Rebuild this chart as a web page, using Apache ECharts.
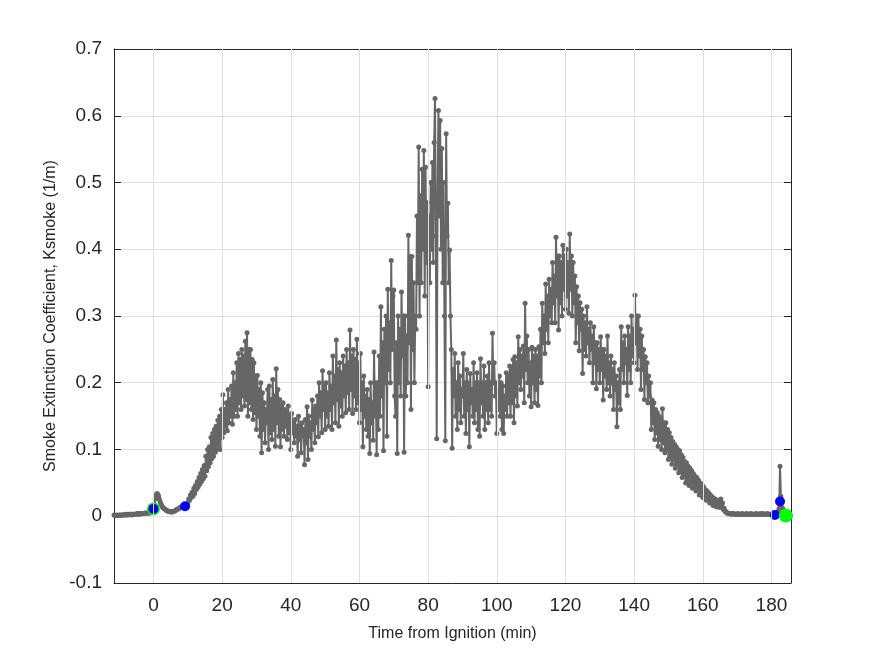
<!DOCTYPE html>
<html>
<head>
<meta charset="utf-8">
<script src="https://cdn.jsdelivr.net/npm/echarts@6/dist/echarts.min.js"></script>
<style>
html,body{margin:0;padding:0;background:#fff;}
#chart{width:875px;height:656px;}
</style>
</head>
<body>
<div id="chart"></div>
<script>
// Sampling of the smoke record: 0.25 min between readings
const sampleStep = 0.25;
const preStart = -11.5;   // first reading of the pre-ignition record
const blockMinutes = 5;   // each growth/decay block covers 5 minutes from t = 0
const tailStart = 180;    // last block

// Smoke extinction coefficient Ksmoke (1/m)
const preIgnition = [
  0.002,0.001,0.001,0.002,0.001,0.001,0.002,0.002,0.001,0.002,
  0.002,0.002,0.002,0.003,0.002,0.002,0.003,0.002,0.003,0.003,
  0.003,0.002,0.003,0.003,0.003,0.003,0.003,0.004,0.003,0.004,
  0.004,0.003,0.004,0.004,0.004,0.004,0.005,0.004,0.005,0.005,
  0.005,0.005,0.005,0.006,0.006,0.007
];
const fireBlocks = [
  [0.011,0.018,0.026,0.031,0.034,0.033,0.030,0.025,0.021,0.018,0.015,0.013,0.012,0.011,0.010,0.009,0.008,0.008,0.007,0.007],
  [0.007,0.006,0.007,0.007,0.008,0.008,0.009,0.010,0.011,0.011,0.012,0.013,0.014,0.014,0.013,0.014,0.015,0.016,0.016,0.018],
  [0.020,0.026,0.024,0.032,0.028,0.036,0.030,0.042,0.034,0.046,0.040,0.052,0.044,0.058,0.048,0.064,0.052,0.070,0.056,0.076],
  [0.060,0.090,0.068,0.100,0.074,0.104,0.080,0.118,0.086,0.124,0.090,0.130,0.096,0.135,0.100,0.144,0.106,0.150,0.100,0.160],
  [0.118,0.182,0.125,0.160,0.135,0.170,0.128,0.190,0.140,0.175,0.150,0.195,0.138,0.215,0.150,0.200,0.160,0.230,0.150,0.244],
  [0.170,0.235,0.160,0.250,0.180,0.240,0.165,0.262,0.175,0.275,0.150,0.250,0.170,0.250,0.160,0.235,0.145,0.230,0.155,0.210],
  [0.130,0.211,0.150,0.190,0.120,0.200,0.095,0.185,0.130,0.170,0.110,0.160,0.140,0.190,0.100,0.195,0.125,0.175,0.115,0.205],
  [0.130,0.180,0.105,0.221,0.140,0.190,0.120,0.175,0.104,0.165,0.130,0.170,0.120,0.160,0.135,0.155,0.115,0.165,0.125,0.150],
  [0.100,0.154,0.125,0.140,0.110,0.145,0.120,0.135,0.090,0.150,0.115,0.135,0.095,0.140,0.120,0.130,0.077,0.145,0.110,0.164],
  [0.085,0.150,0.120,0.140,0.100,0.174,0.130,0.160,0.110,0.165,0.140,0.180,0.119,0.200,0.150,0.185,0.125,0.218,0.160,0.195],
  [0.130,0.200,0.150,0.185,0.135,0.215,0.160,0.195,0.130,0.240,0.170,0.210,0.140,0.264,0.175,0.220,0.135,0.230,0.165,0.215],
  [0.150,0.240,0.180,0.225,0.155,0.250,0.185,0.230,0.160,0.279,0.190,0.240,0.154,0.250,0.180,0.235,0.160,0.265,0.170,0.230],
  [0.140,0.244,0.160,0.200,0.104,0.210,0.150,0.180,0.130,0.190,0.120,0.175,0.094,0.200,0.140,0.170,0.114,0.246,0.150,0.200],
  [0.092,0.200,0.130,0.240,0.150,0.314,0.180,0.260,0.098,0.280,0.200,0.300,0.120,0.340,0.220,0.290,0.200,0.383,0.250,0.330],
  [0.339,0.180,0.150,0.260,0.094,0.300,0.200,0.280,0.180,0.336,0.240,0.300,0.096,0.300,0.180,0.270,0.200,0.421,0.260,0.389],
  [0.160,0.389,0.250,0.350,0.200,0.300,0.280,0.450,0.350,0.553,0.300,0.480,0.350,0.520,0.400,0.548,0.330,0.523,0.380,0.470],
  [0.194,0.450,0.350,0.500,0.400,0.530,0.380,0.560,0.626,0.420,0.116,0.480,0.608,0.450,0.593,0.400,0.551,0.350,0.500,0.300],
  [0.113,0.573,0.420,0.469,0.350,0.399,0.300,0.250,0.102,0.220,0.180,0.244,0.150,0.200,0.130,0.230,0.160,0.210,0.140,0.190],
  [0.180,0.244,0.150,0.200,0.124,0.220,0.160,0.200,0.104,0.214,0.170,0.190,0.150,0.230,0.140,0.200,0.160,0.215,0.130,0.200],
  [0.120,0.236,0.170,0.200,0.150,0.225,0.130,0.200,0.160,0.210,0.140,0.230,0.160,0.200,0.150,0.274,0.200,0.230,0.180,0.200],
  [0.124,0.190,0.160,0.210,0.150,0.200,0.130,0.195,0.124,0.180,0.160,0.215,0.150,0.210,0.170,0.225,0.150,0.220,0.170,0.235],
  [0.140,0.239,0.180,0.230,0.165,0.269,0.200,0.250,0.190,0.240,0.210,0.255,0.170,0.319,0.220,0.270,0.200,0.250,0.180,0.230],
  [0.164,0.253,0.200,0.240,0.170,0.250,0.190,0.240,0.166,0.254,0.210,0.280,0.200,0.319,0.260,0.300,0.244,0.348,0.280,0.330],
  [0.260,0.355,0.300,0.340,0.290,0.380,0.320,0.360,0.290,0.418,0.330,0.390,0.279,0.390,0.320,0.380,0.300,0.406,0.340,0.390],
  [0.310,0.400,0.330,0.380,0.304,0.423,0.340,0.390,0.300,0.380,0.320,0.360,0.260,0.344,0.290,0.330,0.248,0.320,0.280,0.310],
  [0.214,0.300,0.250,0.290,0.240,0.314,0.260,0.280,0.230,0.290,0.250,0.270,0.200,0.284,0.230,0.260,0.191,0.260,0.220,0.250],
  [0.200,0.269,0.220,0.250,0.174,0.250,0.210,0.240,0.190,0.270,0.200,0.230,0.180,0.240,0.200,0.220,0.160,0.230,0.190,0.210],
  [0.134,0.200,0.170,0.220,0.160,0.284,0.220,0.260,0.200,0.270,0.230,0.250,0.181,0.284,0.220,0.270,0.200,0.300,0.240,0.280],
  [0.230,0.331,0.260,0.300,0.220,0.300,0.240,0.280,0.190,0.270,0.220,0.250,0.175,0.239,0.200,0.230,0.170,0.210,0.180,0.200],
  [0.130,0.174,0.140,0.170,0.115,0.160,0.125,0.155,0.105,0.150,0.115,0.145,0.100,0.161,0.110,0.140,0.095,0.140,0.100,0.130],
  [0.085,0.125,0.090,0.118,0.078,0.112,0.085,0.108,0.072,0.104,0.078,0.100,0.065,0.098,0.070,0.092,0.058,0.088,0.062,0.082],
  [0.050,0.080,0.055,0.075,0.046,0.072,0.050,0.068,0.042,0.064,0.046,0.060,0.038,0.058,0.040,0.054,0.032,0.050,0.036,0.048],
  [0.028,0.044,0.030,0.040,0.024,0.038,0.026,0.035,0.020,0.032,0.022,0.029,0.016,0.027,0.018,0.025,0.014,0.024,0.016,0.022],
  [0.013,0.026,0.016,0.020,0.010,0.012,0.007,0.007,0.005,0.005,0.004,0.004,0.004,0.003,0.003,0.004,0.004,0.003,0.003,0.003],
  [0.003,0.004,0.003,0.003,0.003,0.003,0.004,0.003,0.003,0.003,0.003,0.004,0.003,0.003,0.003,0.003,0.004,0.003,0.003,0.003],
  [0.003,0.003,0.004,0.003,0.003,0.003,0.003,0.004,0.003,0.003,0.004,0.003,0.003,0.003,0.003,0.004,0.003,0.003,0.003,0.003]
];
const tail = [
  0.003,0.003,0.003,0.003,0.002,0.003,0.004,0.006,0.008,0.012,
  0.075,0.030,0.022,0.012,0.006,0.003,0.002,0.001,0.001,0.001,
  0.001,0.001,0.001,0.001
];

// Highlighted event points [time (min), Ksmoke]
const bluePoints = [[0, 0.011], [9.2, 0.015], [181.0, 0.002], [182.5, 0.022]];
const greenStart = [[0, 0.011]];
const greenEnd = [[184.2, 0.001]];

// Axis settings
const xTicks = [0, 20, 40, 60, 80, 100, 120, 140, 160, 180];
const xRange = [-11.5, 185.7];
const yRange = [-0.1, 0.7];

const seriesData = [];
preIgnition.forEach((v, j) => seriesData.push([preStart + j * sampleStep, v]));
fireBlocks.forEach((block, b) => block.forEach((v, j) => seriesData.push([b * blockMinutes + j * sampleStep, v])));
tail.forEach((v, j) => seriesData.push([tailStart + j * sampleStep, v]));

const axisColor = '#262626';
const gridColor = '#dfdfdf';
const font = '"Liberation Sans", Arial, Helvetica, sans-serif';

const chart = echarts.init(document.getElementById('chart'), null, {renderer: 'canvas'});
chart.setOption({
  animation: false,
  backgroundColor: '#ffffff',
  grid: {left: 114, right: 84, top: 49, bottom: 73, containLabel: false},
  xAxis: [{
    type: 'value', position: 'bottom', min: xRange[0], max: xRange[1],
    name: 'Time from Ignition (min)', nameLocation: 'middle', nameGap: 43,
    nameTextStyle: {fontFamily: font, fontSize: 16, color: axisColor},
    axisLine: {show: true, onZero: false, lineStyle: {color: axisColor, width: 1}},
    axisTick: {show: true, inside: true, length: 7, customValues: xTicks, lineStyle: {color: axisColor}},
    axisLabel: {fontFamily: font, fontSize: 19, color: axisColor, margin: 13, customValues: xTicks},
    splitLine: {show: false}
  }, {
    type: 'value', position: 'top', min: xRange[0], max: xRange[1],
    axisLine: {show: true, onZero: false, lineStyle: {color: axisColor, width: 1}},
    axisTick: {show: true, inside: true, length: 7, customValues: xTicks, lineStyle: {color: axisColor}},
    axisLabel: {show: false}, splitLine: {show: false}
  }],
  yAxis: [{
    type: 'value', position: 'left', min: yRange[0], max: yRange[1], interval: 0.1,
    name: 'Smoke Extinction Coefficient, Ksmoke (1/m)', nameLocation: 'middle', nameGap: 53,
    nameTextStyle: {fontFamily: font, fontSize: 16, color: axisColor},
    axisLine: {show: true, onZero: false, lineStyle: {color: axisColor, width: 1}},
    axisTick: {show: true, inside: true, length: 7, lineStyle: {color: axisColor}},
    axisLabel: {fontFamily: font, fontSize: 19, color: axisColor, margin: 12,
      formatter: v => String(Math.round(v * 10) / 10)},
    splitLine: {show: true, lineStyle: {color: gridColor, width: 1}}
  }, {
    type: 'value', position: 'right', min: yRange[0], max: yRange[1], interval: 0.1,
    axisLine: {show: true, onZero: false, lineStyle: {color: axisColor, width: 1}},
    axisTick: {show: true, inside: true, length: 7, lineStyle: {color: axisColor}},
    axisLabel: {show: false}, splitLine: {show: false}
  }],
  series: [{
    type: 'line', data: [], xAxisIndex: 0, yAxisIndex: 0, z: 1, silent: true,
    markLine: {
      silent: true, symbol: ['none', 'none'], label: {show: false}, animation: false,
      lineStyle: {color: gridColor, type: 'solid', width: 1},
      emphasis: {disabled: true},
      data: xTicks.map(v => ({xAxis: v}))
    }
  }, {
    type: 'line', data: seriesData, xAxisIndex: 0, yAxisIndex: 0,
    color: '#666666', lineStyle: {color: '#666666', width: 2},
    symbol: 'circle', symbolSize: 5, showSymbol: true, showAllSymbol: true,
    itemStyle: {color: '#666666'}, z: 2, silent: true
  }, {
    type: 'scatter', data: greenStart, symbol: 'circle', symbolSize: 13,
    itemStyle: {color: '#00ff00', opacity: 1}, z: 3, silent: true
  }, {
    type: 'scatter', data: bluePoints, symbol: 'circle', symbolSize: 10,
    itemStyle: {color: '#0000ff', opacity: 1}, z: 4, silent: true
  }, {
    type: 'scatter', data: greenEnd, symbol: 'circle', symbolSize: 14,
    itemStyle: {color: '#00ff00', opacity: 1}, z: 5, silent: true
  }]
});
</script>
</body>
</html>
